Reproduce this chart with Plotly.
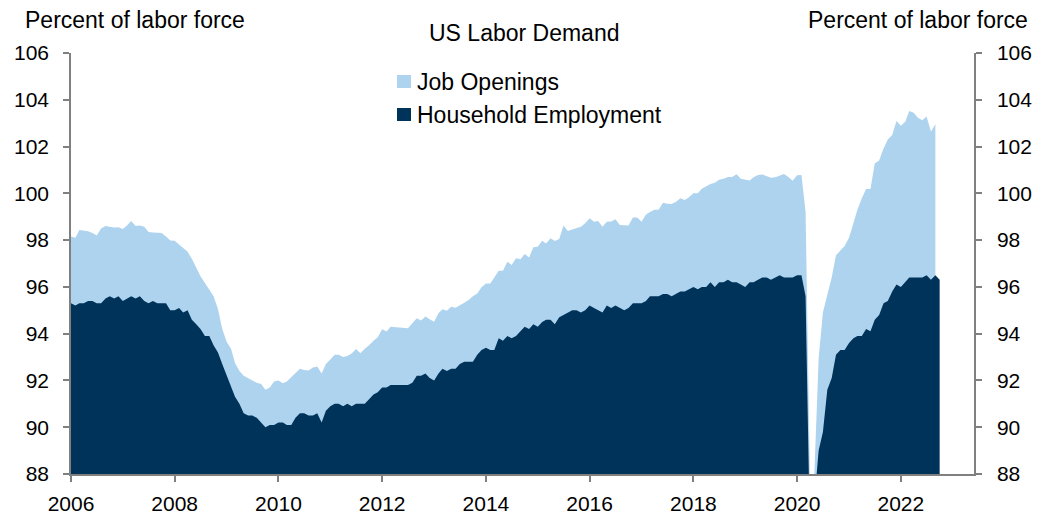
import pandas as pd
import plotly.graph_objects as go

# ---------------- data (percent of labor force, monthly) ----------------
start_month = "2006-01-01"

# Household employment as % of labor force, Jan 2006 - Oct 2022
household_employment = [
    95.3, 95.2, 95.3, 95.3, 95.4, 95.4, 95.3, 95.3, 95.5, 95.6, 95.5, 95.6,  # 2006
    95.4, 95.5, 95.6, 95.5, 95.6, 95.4, 95.3, 95.4, 95.3, 95.3, 95.3, 95.0,  # 2007
    95.0, 95.1, 94.9, 95.0, 94.6, 94.4, 94.2, 93.9, 93.9, 93.5, 93.2, 92.7,  # 2008
    92.2, 91.7, 91.3, 91.0, 90.6, 90.5, 90.5, 90.4, 90.2, 90.0, 90.1, 90.1,  # 2009
    90.2, 90.2, 90.1, 90.1, 90.4, 90.6, 90.6, 90.5, 90.5, 90.6, 90.2, 90.7,  # 2010
    90.9, 91.0, 91.0, 90.9, 91.0, 90.9, 91.0, 91.0, 91.0, 91.2, 91.4, 91.5,  # 2011
    91.7, 91.7, 91.8, 91.8, 91.8, 91.8, 91.8, 91.9, 92.2, 92.2, 92.3, 92.1,  # 2012
    92.0, 92.3, 92.5, 92.4, 92.5, 92.5, 92.7, 92.8, 92.8, 92.8, 93.1, 93.3,  # 2013
    93.4, 93.3, 93.3, 93.8, 93.7, 93.9, 93.8, 93.9, 94.1, 94.3, 94.2, 94.4,  # 2014
    94.3, 94.5, 94.6, 94.6, 94.4, 94.7, 94.8, 94.9, 95.0, 95.0, 94.9, 95.0,  # 2015
    95.2, 95.1, 95.0, 94.9, 95.2, 95.1, 95.2, 95.1, 95.0, 95.1, 95.3, 95.3,  # 2016
    95.3, 95.4, 95.6, 95.6, 95.6, 95.7, 95.7, 95.6, 95.7, 95.8, 95.8, 95.9,  # 2017
    96.0, 95.9, 96.0, 96.0, 96.2, 96.0, 96.2, 96.2, 96.3, 96.2, 96.2, 96.1,  # 2018
    96.0, 96.2, 96.2, 96.3, 96.4, 96.4, 96.3, 96.4, 96.5, 96.4, 96.4, 96.4,  # 2019
    96.5, 96.5, 95.6, 85.3, 86.8, 89.0, 89.8, 91.6, 92.1, 93.1, 93.3, 93.3,  # 2020
    93.6, 93.8, 93.9, 93.9, 94.2, 94.1, 94.6, 94.8, 95.3, 95.4, 95.8, 96.1,  # 2021
    96.0, 96.2, 96.4, 96.4, 96.4, 96.4, 96.5, 96.3, 96.5, 96.3,              # 2022
]

# Employment + job openings (top of the light-blue area), Jan 2006 - Sep 2022
job_openings_stacked = [
    98.15, 98.10, 98.43, 98.40, 98.38, 98.30, 98.20, 98.50, 98.60, 98.57, 98.54, 98.55,  # 2006
    98.47, 98.64, 98.82, 98.60, 98.62, 98.57, 98.35, 98.33, 98.33, 98.30, 98.15, 97.98,  # 2007
    97.97, 97.82, 97.66, 97.50, 97.20, 96.80, 96.45, 96.17, 95.90, 95.60, 95.05, 94.20,  # 2008
    93.65, 93.35, 92.75, 92.40, 92.20, 92.09, 92.00, 91.90, 91.85, 91.60, 91.70, 91.95,  # 2009
    92.00, 91.88, 91.95, 92.15, 92.30, 92.50, 92.45, 92.42, 92.55, 92.60, 92.30, 92.70,  # 2010
    92.90, 93.10, 93.10, 93.00, 93.05, 93.15, 93.34, 93.16, 93.35, 93.50, 93.70, 93.85,  # 2011
    94.19, 94.09, 94.30, 94.28, 94.27, 94.27, 94.23, 94.45, 94.66, 94.56, 94.73, 94.62,  # 2012
    94.51, 94.87, 95.04, 94.98, 95.15, 95.11, 95.20, 95.32, 95.44, 95.60, 95.72, 95.98,  # 2013
    96.15, 96.15, 96.40, 96.69, 96.69, 97.08, 96.94, 97.22, 97.18, 97.41, 97.26, 97.69,  # 2014
    97.72, 97.97, 97.86, 98.08, 97.96, 98.05, 98.62, 98.39, 98.45, 98.50, 98.57, 98.72,  # 2015
    98.93, 98.79, 98.82, 98.57, 98.79, 98.80, 98.89, 98.65, 98.63, 98.62, 98.97, 98.97,  # 2016
    98.79, 99.10, 99.20, 99.30, 99.30, 99.60, 99.55, 99.54, 99.64, 99.79, 99.72, 99.83,  # 2017
    100.00, 100.00, 100.20, 100.30, 100.40, 100.45, 100.58, 100.62, 100.70, 100.70, 100.82, 100.62,  # 2018
    100.60, 100.55, 100.69, 100.78, 100.81, 100.75, 100.67, 100.69, 100.75, 100.83, 100.70, 100.54,  # 2019
    100.77, 100.78, 99.20, 87.60, 87.90, 92.95, 94.90, 95.70, 96.40, 97.35, 97.55, 97.75,  # 2020
    98.10, 98.70, 99.30, 99.79, 100.18, 100.18, 101.28, 101.40, 101.92, 102.30, 102.49, 103.09,  # 2021
    102.89, 103.06, 103.52, 103.45, 103.23, 103.13, 103.28, 102.64, 102.95,  # 2022
]

x_tick_years = ["2006", "2008", "2010", "2012", "2014", "2016", "2018", "2020", "2022"]
y_tick_values = [88, 90, 92, 94, 96, 98, 100, 102, 104, 106]

series_names = ["Job Openings", "Household Employment"]
title_text = "US Labor Demand"
axis_title_text = "Percent of labor force"

# ---------------- figure ----------------
LIGHT = "#ADD3EF"
NAVY = "#00335A"
AXIS = "#808080"
FONT = "Arial, Liberation Sans, sans-serif"

emp_dates = pd.date_range(start_month, periods=len(household_employment), freq="MS")
jo_dates = pd.date_range(start_month, periods=len(job_openings_stacked), freq="MS")

fig = go.Figure()
fig.add_trace(go.Scatter(
    x=jo_dates, y=job_openings_stacked, name=series_names[0],
    mode="lines", line=dict(width=0, color=LIGHT),
    fill="tozeroy", fillcolor=LIGHT, hoverinfo="x+y",
))
fig.add_trace(go.Scatter(
    x=emp_dates, y=household_employment, name=series_names[1],
    mode="lines", line=dict(width=0, color=NAVY),
    fill="tozeroy", fillcolor=NAVY, hoverinfo="x+y",
))
# invisible trace to anchor the right-hand axis
fig.add_trace(go.Scatter(
    x=emp_dates, y=household_employment, yaxis="y2",
    mode="lines", line=dict(width=0), opacity=0,
    showlegend=False, hoverinfo="skip",
))

axis_common = dict(
    showline=True, linecolor=AXIS, linewidth=1.5,
    ticks="outside", ticklen=6, tickwidth=1.5, tickcolor=AXIS,
    showgrid=False, zeroline=False, automargin=False,
    tickfont=dict(family=FONT, size=21, color="black"),
)

fig.update_layout(
    width=1046, height=514,
    margin=dict(l=71, r=72, t=53, b=40, pad=0),
    paper_bgcolor="white", plot_bgcolor="white",
    showlegend=False,
    font=dict(family=FONT, color="black"),
    xaxis=dict(
        type="date",
        range=["2006-01-01", "2023-05-31"],
        tickvals=[f"{y}-01-01" for y in x_tick_years],
        ticktext=x_tick_years,
        ticklabelstandoff=4,
        **axis_common,
    ),
    yaxis=dict(
        range=[88, 106], tickvals=y_tick_values,
        ticklabelstandoff=10,
        **axis_common,
    ),
    yaxis2=dict(
        range=[88, 106], tickvals=y_tick_values,
        overlaying="y", side="right", anchor="x",
        ticklabelstandoff=11,
        **axis_common,
    ),
)

W, H = 903.0, 421.0  # plot area size in px
def px_x(px):
    return (px - 71.0) / W
def px_y(py):
    return (474.0 - py) / H

annotations = [
    dict(text=axis_title_text, x=px_x(23), y=px_y(19.5), xanchor="left", yanchor="middle"),
    dict(text=axis_title_text, x=px_x(1030), y=px_y(19.5), xanchor="right", yanchor="middle"),
    dict(text=title_text, x=px_x(524.5), y=px_y(33), xanchor="center", yanchor="middle"),
    dict(text=series_names[0], x=px_x(415), y=px_y(81.5), xanchor="left", yanchor="middle"),
    dict(text=series_names[1], x=px_x(415), y=px_y(114.5), xanchor="left", yanchor="middle"),
]
for a in annotations:
    a.update(xref="paper", yref="paper", showarrow=False,
             font=dict(family=FONT, size=23, color="black"))
fig.update_layout(annotations=annotations)

fig.update_layout(shapes=[
    dict(type="rect", xref="paper", yref="paper",
         x0=px_x(397), x1=px_x(411), y0=px_y(88), y1=px_y(75),
         fillcolor=LIGHT, line=dict(width=0)),
    dict(type="rect", xref="paper", yref="paper",
         x0=px_x(397), x1=px_x(411), y0=px_y(121), y1=px_y(108),
         fillcolor=NAVY, line=dict(width=0)),
])

fig.write_html("out.html", config={"displayModeBar": False})

# remove the browser's default page margin so the figure sits at (0, 0)
with open("out.html", "r", encoding="utf-8") as f:
    html = f.read()
html = html.replace("<head>", "<head><style>html,body{margin:0;padding:0;overflow:hidden;}</style>", 1)
with open("out.html", "w", encoding="utf-8") as f:
    f.write(html)
